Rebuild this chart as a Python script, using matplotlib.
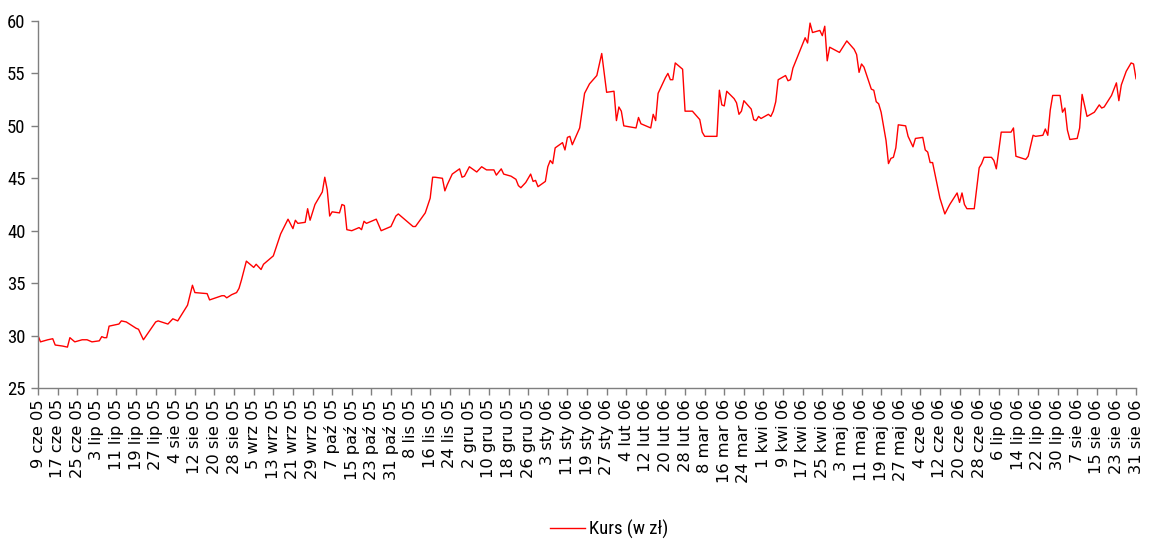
import matplotlib
matplotlib.use("Agg")
import matplotlib.pyplot as plt
import pandas as pd

dates = [
    "2005-06-09", "2005-06-10", "2005-06-13", "2005-06-15", "2005-06-16", "2005-06-19",
    "2005-06-21", "2005-06-22", "2005-06-24", "2005-06-27", "2005-06-29", "2005-07-01",
    "2005-07-04", "2005-07-05", "2005-07-06", "2005-07-07", "2005-07-08", "2005-07-12",
    "2005-07-13", "2005-07-15", "2005-07-19", "2005-07-20", "2005-07-22", "2005-07-27",
    "2005-07-28", "2005-08-01", "2005-08-03", "2005-08-05", "2005-08-09", "2005-08-11",
    "2005-08-12", "2005-08-17", "2005-08-18", "2005-08-23", "2005-08-24", "2005-08-25",
    "2005-08-27", "2005-08-29", "2005-08-30", "2005-08-31", "2005-09-02", "2005-09-05",
    "2005-09-06", "2005-09-08", "2005-09-09", "2005-09-13", "2005-09-16", "2005-09-19",
    "2005-09-21", "2005-09-22", "2005-09-23", "2005-09-26", "2005-09-27", "2005-09-28",
    "2005-09-30", "2005-10-03", "2005-10-04", "2005-10-05", "2005-10-06", "2005-10-07",
    "2005-10-10", "2005-10-11", "2005-10-12", "2005-10-13", "2005-10-15", "2005-10-18",
    "2005-10-19", "2005-10-20", "2005-10-21", "2005-10-25", "2005-10-27", "2005-10-31",
    "2005-11-02", "2005-11-03", "2005-11-08", "2005-11-09", "2005-11-10", "2005-11-14",
    "2005-11-16", "2005-11-17", "2005-11-18", "2005-11-21", "2005-11-22", "2005-11-23",
    "2005-11-25", "2005-11-28", "2005-11-29", "2005-11-30", "2005-12-02", "2005-12-05",
    "2005-12-07", "2005-12-09", "2005-12-12", "2005-12-13", "2005-12-15", "2005-12-16",
    "2005-12-19", "2005-12-21", "2005-12-22", "2005-12-23", "2005-12-25", "2005-12-27",
    "2005-12-28", "2005-12-29", "2005-12-30", "2006-01-02", "2006-01-03", "2006-01-04",
    "2006-01-05", "2006-01-06", "2006-01-09", "2006-01-10", "2006-01-11", "2006-01-12",
    "2006-01-13", "2006-01-16", "2006-01-18", "2006-01-20", "2006-01-23", "2006-01-25",
    "2006-01-27", "2006-01-30", "2006-01-31", "2006-02-01", "2006-02-02", "2006-02-03",
    "2006-02-08", "2006-02-09", "2006-02-10", "2006-02-14", "2006-02-15", "2006-02-16",
    "2006-02-17", "2006-02-20", "2006-02-21", "2006-02-22", "2006-02-23", "2006-02-24",
    "2006-02-27", "2006-02-28", "2006-03-02", "2006-03-03", "2006-03-06", "2006-03-07",
    "2006-03-08", "2006-03-13", "2006-03-14", "2006-03-15", "2006-03-16", "2006-03-17",
    "2006-03-20", "2006-03-21", "2006-03-22", "2006-03-23", "2006-03-24", "2006-03-27",
    "2006-03-28", "2006-03-29", "2006-03-30", "2006-03-31", "2006-04-03", "2006-04-04",
    "2006-04-05", "2006-04-06", "2006-04-07", "2006-04-10", "2006-04-11", "2006-04-12",
    "2006-04-13", "2006-04-18", "2006-04-19", "2006-04-20", "2006-04-21", "2006-04-24",
    "2006-04-25", "2006-04-26", "2006-04-27", "2006-04-28", "2006-05-02", "2006-05-05",
    "2006-05-08", "2006-05-09", "2006-05-10", "2006-05-11", "2006-05-12", "2006-05-15",
    "2006-05-16", "2006-05-17", "2006-05-18", "2006-05-19", "2006-05-21", "2006-05-22",
    "2006-05-23", "2006-05-24", "2006-05-25", "2006-05-26", "2006-05-29", "2006-05-30",
    "2006-06-01", "2006-06-02", "2006-06-05", "2006-06-06", "2006-06-07", "2006-06-08",
    "2006-06-09", "2006-06-12", "2006-06-14", "2006-06-16", "2006-06-19", "2006-06-20",
    "2006-06-21", "2006-06-22", "2006-06-23", "2006-06-26", "2006-06-28", "2006-06-29",
    "2006-06-30", "2006-07-03", "2006-07-04", "2006-07-05", "2006-07-07", "2006-07-11",
    "2006-07-12", "2006-07-13", "2006-07-17", "2006-07-18", "2006-07-20", "2006-07-21",
    "2006-07-24", "2006-07-25", "2006-07-26", "2006-07-27", "2006-07-28", "2006-07-31",
    "2006-08-01", "2006-08-02", "2006-08-03", "2006-08-04", "2006-08-07", "2006-08-08",
    "2006-08-09", "2006-08-11", "2006-08-14", "2006-08-16", "2006-08-17", "2006-08-18",
    "2006-08-21", "2006-08-23", "2006-08-24", "2006-08-25", "2006-08-27", "2006-08-29",
    "2006-08-30", "2006-08-31",
]

kurs = [
    30.0, 29.4, 29.6, 29.7, 29.1, 29.0,
    28.9, 29.8, 29.4, 29.6, 29.6, 29.4,
    29.5, 29.9, 29.8, 29.8, 30.9, 31.1,
    31.4, 31.3, 30.7, 30.6, 29.6, 31.3,
    31.4, 31.1, 31.6, 31.4, 32.9, 34.8,
    34.1, 34.0, 33.4, 33.8, 33.8, 33.6,
    33.9, 34.1, 34.5, 35.3, 37.1, 36.5,
    36.8, 36.3, 36.8, 37.6, 39.7, 41.1,
    40.2, 41.0, 40.7, 40.8, 42.1, 41.0,
    42.5, 43.7, 45.1, 43.9, 41.4, 41.8,
    41.7, 42.5, 42.4, 40.1, 40.0, 40.3,
    40.1, 40.9, 40.7, 41.1, 40.0, 40.4,
    41.4, 41.6, 40.6, 40.4, 40.4, 41.7,
    43.1, 45.1, 45.1, 45.0, 43.8, 44.4,
    45.4, 45.9, 45.1, 45.2, 46.1, 45.6,
    46.1, 45.8, 45.8, 45.3, 45.9, 45.4,
    45.2, 44.9, 44.3, 44.1, 44.6, 45.4,
    44.7, 44.8, 44.2, 44.7, 46.1, 46.7,
    46.4, 47.9, 48.4, 47.7, 48.9, 49.0,
    48.2, 49.8, 53.1, 54.0, 54.8, 56.9,
    53.2, 53.3, 50.5, 51.8, 51.4, 50.0,
    49.8, 50.8, 50.2, 49.8, 51.1, 50.5,
    53.1, 54.6, 55.0, 54.4, 54.4, 56.0,
    55.4, 51.4, 51.4, 51.4, 50.6, 49.4,
    49.0, 49.0, 53.4, 52.0, 51.9, 53.3,
    52.6, 52.2, 51.1, 51.4, 52.4, 51.6,
    50.6, 50.5, 50.9, 50.7, 51.1, 50.9,
    51.4, 52.3, 54.4, 54.8, 54.3, 54.4,
    55.5, 58.4, 57.9, 59.8, 58.9, 59.1,
    58.6, 59.5, 56.2, 57.5, 57.0, 58.1,
    57.3, 56.8, 55.1, 55.9, 55.6, 53.5,
    53.4, 52.3, 52.1, 51.3, 48.6, 46.4,
    46.9, 47.0, 47.9, 50.1, 50.0, 49.0,
    48.0, 48.8, 48.9, 47.7, 47.5, 46.5,
    46.5, 43.1, 41.6, 42.5, 43.6, 42.7,
    43.6, 42.5, 42.1, 42.1, 46.0, 46.4,
    47.0, 47.0, 46.7, 45.9, 49.4, 49.4,
    49.8, 47.1, 46.8, 47.1, 49.1, 49.0,
    49.1, 49.7, 49.1, 51.5, 52.9, 52.9,
    51.3, 51.7, 49.6, 48.7, 48.8, 49.8,
    53.0, 50.9, 51.3, 52.0, 51.7, 51.8,
    52.9, 54.1, 52.4, 53.9, 55.2, 56.0,
    55.9, 54.5,
]

month_abbr = ["sty", "lut", "mar", "kwi", "maj", "cze",
              "lip", "sie", "wrz", "paź", "lis", "gru"]
tick_start = "2005-06-09"
tick_end = "2006-08-31"
tick_step_days = 8
series_label = "Kurs (w zł)"
y_ticks = [25, 30, 35, 40, 45, 50, 55, 60]

x = pd.to_datetime(dates)
tick_dates = pd.date_range(tick_start, tick_end, freq=f"{tick_step_days}D")
tick_labels = [f"{d.day} {month_abbr[d.month - 1]} {d.strftime('%y')}" for d in tick_dates]

narrow = ["Roboto Condensed", "DejaVu Sans"]

fig = plt.figure(figsize=(11.49, 5.41), dpi=100)
ax = fig.add_axes([0.0331, 0.2828, 0.9556, 0.6784])

line, = ax.plot(x, kurs, color="#FF0000", lw=1.0, label=series_label)

ax.set_xlim(pd.Timestamp(tick_start), pd.Timestamp(tick_end))
ax.set_ylim(25, 60)
ax.set_yticks(y_ticks)
ax.set_xticks(tick_dates)
ax.set_xticklabels(tick_labels, rotation=90, fontsize=11.7, family="DejaVu Sans")
for lab in ax.get_yticklabels():
    lab.set_fontfamily(narrow)
    lab.set_fontsize(13.5)

for s in ["top", "right"]:
    ax.spines[s].set_visible(False)
for s in ["left", "bottom"]:
    ax.spines[s].set_color("#7f7f7f")
    ax.spines[s].set_linewidth(1.0)
ax.tick_params(axis="both", direction="out", length=5, width=1.0, color="#7f7f7f",
               labelcolor="black")
ax.tick_params(axis="y", pad=4)
ax.tick_params(axis="x", pad=3)

fig.legend(handles=[line], labels=[series_label], loc="center",
           bbox_to_anchor=(0.53, 0.022), frameon=False, handlelength=1.9,
           handletextpad=0.2, prop={"family": narrow, "size": 13.5})

fig.savefig("out.png", dpi=100, facecolor="white")
